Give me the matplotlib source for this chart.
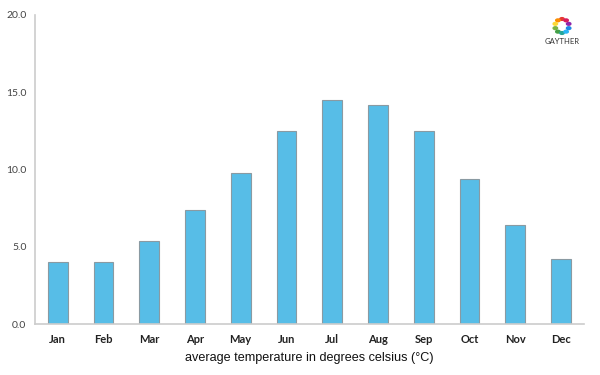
import matplotlib.pyplot as plt
import numpy as np

# Monthly average temperature
months = ["Jan", "Feb", "Mar", "Apr", "May", "Jun",
          "Jul", "Aug", "Sep", "Oct", "Nov", "Dec"]
temps = [4.0, 4.0, 5.4, 7.4, 9.8, 12.5, 14.5, 14.2, 12.5, 9.4, 6.4, 4.2]
yticks = [0.0, 5.0, 10.0, 15.0, 20.0]

plt.rcParams['font.family'] = ['Lato', 'DejaVu Sans']

fig = plt.figure(figsize=(6, 3.75), dpi=100)
ax = fig.add_axes([0.058, 0.136, 0.915, 0.824])

x = np.arange(len(months))
ax.bar(x, temps, width=0.43, color="#57bde7", edgecolor="#8a9aa2", linewidth=0.8)

ax.set_xlim(-0.5, len(months) - 0.5)
ax.set_ylim(0, 20)
ax.set_yticks(yticks)
ax.set_yticklabels([f"{v:.1f}" for v in yticks], fontsize=7.5, color="#444444")
ax.set_xticks(x)
ax.set_xticklabels(months, fontsize=8, fontweight="bold", color="#222222")
ax.tick_params(axis="both", length=0)
ax.tick_params(axis="x", pad=7)
ax.tick_params(axis="y", pad=6)

for s in ["top", "right"]:
    ax.spines[s].set_visible(False)
for s in ["left", "bottom"]:
    ax.spines[s].set_color("#cccccc")
    ax.spines[s].set_linewidth(1.2)

ax.set_xlabel("average temperature in degrees celsius (°C)", fontsize=9.1,
              color="#111111", labelpad=5, family=["Liberation Sans", "DejaVu Sans"])

# little logo at top right (in pixel coords of a 600x375 figure)
logo_colors = ["#e53935", "#fb8c00", "#fdd835", "#7cb342", "#43a047",
               "#26a69a", "#29b6f6", "#1e88e5", "#8e24aa", "#d81b60"]
ang = np.linspace(0, 2 * np.pi, len(logo_colors), endpoint=False) + np.pi / 2
cx, cy, r = 562, 375 - 26, 7
for a, c in zip(ang, logo_colors):
    fig.add_artist(plt.Circle(((cx + r * np.cos(a)) / 600, (cy + r * np.sin(a)) / 375),
                              2.2 / 600, color=c, transform=fig.transFigure))
fig.text(cx / 600, (375 - 41) / 375, "GAYTHER", ha="center", va="center",
         fontsize=5.5, color="#333333")

fig.savefig("out.png", dpi=100)
